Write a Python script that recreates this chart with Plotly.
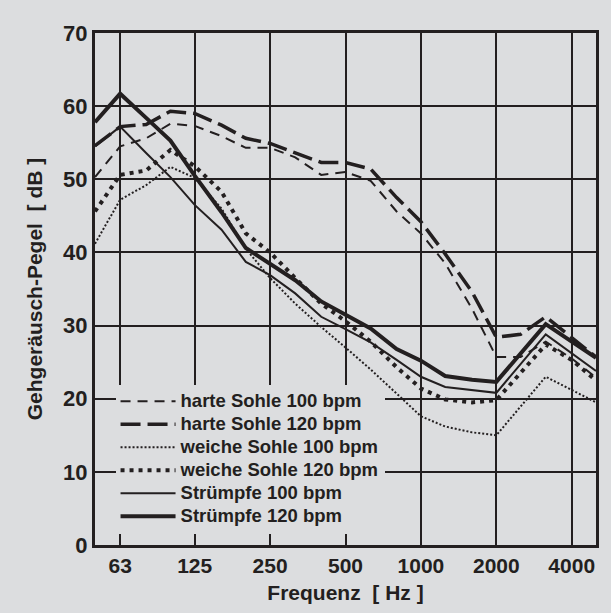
import plotly.graph_objects as go

freqs = [50, 63, 80, 100, 125, 160, 200, 250, 315, 400, 500, 630, 800, 1000, 1250, 1600, 2000, 2500, 3150, 4000, 5000]

harte_100 = [50.3, 54.5, 55.6, 57.6, 57.3, 55.9, 54.3, 54.3, 53.0, 50.6, 51.0, 49.8, 45.6, 42.6, 38.5, 32.3, 25.7, 25.7, 27.8, 25.5, 22.9]
harte_120 = [54.6, 57.2, 57.5, 59.3, 59.0, 57.4, 55.6, 54.9, 53.6, 52.3, 52.3, 51.4, 47.5, 44.2, 39.8, 34.6, 28.4, 28.8, 31.2, 28.3, 25.7]
weiche_100 = [41.2, 47.2, 49.2, 51.7, 50.2, 46.0, 40.5, 36.5, 33.0, 29.8, 27.0, 24.0, 20.7, 17.6, 16.2, 15.4, 15.0, None, 23.0, 21.2, 19.5]
weiche_120 = [45.6, 50.6, 51.2, 54.0, 51.8, 48.3, 42.6, 40.0, 36.5, 33.0, 30.6, 27.8, 24.3, 21.4, 19.9, 19.5, 19.8, None, 27.4, 25.3, 22.5]
struempfe_100 = [54.5, 57.2, 53.6, 50.3, 46.5, 43.1, 38.7, 36.9, 34.4, 31.2, 29.5, 27.7, 25.3, 23.0, 21.6, 21.2, 20.8, None, 28.8, 26.2, 23.8]
struempfe_120 = [57.8, 61.7, 58.4, 55.3, 50.5, 45.5, 40.6, 38.5, 36.2, 33.3, 31.5, 29.6, 26.8, 25.2, 23.1, 22.6, 22.3, None, 30.2, 27.8, 25.6]

names = ["harte Sohle 100 bpm", "harte Sohle 120 bpm", "weiche Sohle 100 bpm",
         "weiche Sohle 120 bpm", "Strümpfe 100 bpm", "Strümpfe 120 bpm"]
series = [harte_100, harte_120, weiche_100, weiche_120, struempfe_100, struempfe_120]
styles = [
    dict(width=2, dash="10px,7px"),
    dict(width=3.5, dash="20px,7px"),
    dict(width=2, dash="2px,2px"),
    dict(width=4, dash="4px,5px"),
    dict(width=2, dash="solid"),
    dict(width=4, dash="solid"),
]

xticks = [63, 125, 250, 500, 1000, 2000, 4000]
xticktext = ["63", "125", "250", "500", "1000", "2000", "4000"]

ink = "#231f20"
bg = "#dcdddf"
font_family = "Liberation Sans, Arial, sans-serif"

fig = go.Figure()
for name, ys, st in zip(names, series, styles):
    fig.add_trace(go.Scatter(
        x=freqs, y=ys, mode="lines", connectgaps=True,
        name="<span style='font-size:18.5px'>" + name + "</span>",
        line=dict(color=ink, width=st["width"], dash=st["dash"]),
    ))

fig.update_layout(
    width=611, height=613,
    margin=dict(l=95, r=15, t=33, b=68),
    paper_bgcolor=bg, plot_bgcolor=bg,
    font=dict(family=font_family, color=ink, size=20, weight="bold"),
    showlegend=True,
    legend=dict(
        x=0.041, y=0.313, xanchor="left", yanchor="top",
        bgcolor=bg, borderwidth=0,
        font=dict(size=15.4, family=font_family, color=ink, weight="bold"),
        itemwidth=55, tracegroupgap=0,
    ),
)

fig.update_xaxes(
    type="log", range=[1.69897, 3.69897],
    tickvals=xticks, ticktext=xticktext,
    showgrid=True, gridcolor=ink, gridwidth=2,
    showline=True, linecolor=ink, linewidth=3, mirror=True,
    ticks="", zeroline=False,
    title=dict(text="Frequenz  [ Hz ]", font=dict(size=21, weight="bold"), standoff=10),
    tickfont=dict(size=21, weight="bold"),
)
fig.update_yaxes(
    range=[0, 70], dtick=10, tick0=0,
    showgrid=True, gridcolor=ink, gridwidth=2,
    showline=True, linecolor=ink, linewidth=3, mirror=True,
    ticks="", zeroline=False,
    title=dict(text="Gehgeräusch-Pegel  [ dB ]", font=dict(size=21, weight="bold"), standoff=15),
    tickfont=dict(size=22, weight="bold"),
)

fig.write_html("out.html", config={"displayModeBar": False},
               post_script="document.body.style.margin='0';document.body.style.overflow='hidden';")
